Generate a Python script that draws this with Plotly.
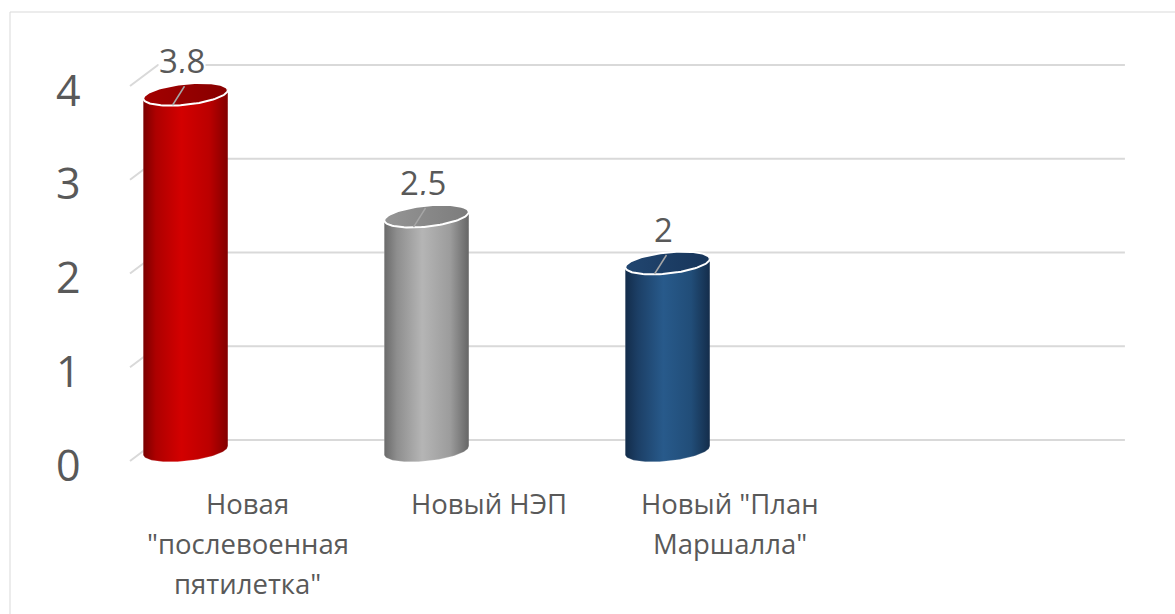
import numpy as np
import plotly.graph_objects as go

# ---------------- data ----------------
categories = ['Новая "послевоенная пятилетка"', 'Новый НЭП', 'Новый "План Маршалла"']
category_lines = [['Новая', '"послевоенная', 'пятилетка"'],
                  ['Новый НЭП'],
                  ['Новый "План', 'Маршалла"']]
values = [3.8, 2.5, 2.0]
y_ticks = [0, 1, 2, 3, 4]
value_labels = [f"{v:g}".replace('.', ',') for v in values]

# ---------------- styles ----------------
body_scales = [
    [[0, '#7a0000'], [0.15, '#ad0000'], [0.45, '#d30000'], [0.78, '#bb0000'], [1, '#830000']],
    [[0, '#6a6a6a'], [0.15, '#8e8e8e'], [0.45, '#b5b5b5'], [0.78, '#9c9c9c'], [1, '#666666']],
    [[0, '#132c4a'], [0.15, '#1c3f66'], [0.45, '#285a8b'], [0.78, '#214d78'], [1, '#142d4b']],
]
top_scales = [
    [[0, '#a30000'], [1, '#880000']],
    [[0, '#959595'], [1, '#7c7c7c']],
    [[0, '#214670'], [1, '#17355a']],
]
GRID = '#d9d9d9'
TEXT = '#595959'
FONT = 'Open Sans'

W, H = 1175, 614
PX_X = 241.0     # pixels per category step
PX_Y = 93.75     # pixels per value unit
X0_PX = 185.5    # pixel x of first category centre
Y0_PX = 450.5    # pixel y of value 0 (mid-depth plane)
x_range = [-X0_PX / PX_X, (W - X0_PX) / PX_X]
y_range = [(Y0_PX - H) / PX_Y, Y0_PX / PX_Y]

DEPTH_DX, DEPTH_DY = 14.0, 10.5          # half-depth offset in px
WALL_FRONT_X, WALL_BACK_X = -55.5, -27.5  # px relative to first category centre
WALL_RIGHT = 3.898                         # category units

ux = lambda px: px / PX_X
uy = lambda px: px / PX_Y

A, B, TH = 42.5, 10.5, np.deg2rad(6)


def ellipse(t):
    dx = A * np.cos(t) * np.cos(TH) - B * np.sin(t) * np.sin(TH)
    dy = A * np.cos(t) * np.sin(TH) + B * np.sin(t) * np.cos(TH)
    return dx, dy


t_r = np.arctan(-(B / A) * np.tan(TH))

fig = go.Figure()

# gridlines (side wall diagonal + back wall)
for v in y_ticks:
    fig.add_trace(go.Scatter(
        x=[ux(WALL_FRONT_X), ux(WALL_BACK_X), WALL_RIGHT],
        y=[v - uy(DEPTH_DY), v + uy(DEPTH_DY), v + uy(DEPTH_DY)],
        mode='lines', line=dict(color=GRID, width=2),
        hoverinfo='skip', showlegend=False))

# cylinders
for i, v in enumerate(values):
    # body
    tb = np.linspace(t_r, t_r - np.pi, 60)
    bx, by = ellipse(tb)
    tt = np.linspace(t_r - np.pi, t_r, 60)
    tx, ty = ellipse(tt)
    xs = np.concatenate([i + ux(bx), i + ux(tx)])
    ys = np.concatenate([0 + uy(by), v + uy(ty)])
    fig.add_trace(go.Scatter(
        x=xs, y=ys, mode='lines', fill='toself',
        fillgradient=dict(type='horizontal', colorscale=body_scales[i]),
        line=dict(width=0.6, color='rgba(255,255,255,0.35)'),
        hoverinfo='skip', showlegend=False))
    # top face
    tf = np.linspace(0, 2 * np.pi, 100)
    fx, fy = ellipse(tf)
    fig.add_trace(go.Scatter(
        x=i + ux(fx), y=v + uy(fy), mode='lines', fill='toself',
        fillgradient=dict(type='horizontal', colorscale=top_scales[i]),
        line=dict(width=2, color='white'),
        hoverinfo='skip', showlegend=False))
    # leader line
    fig.add_trace(go.Scatter(
        x=[i + ux(-1), i + ux(-13)], y=[v + uy(8), v + uy(-11)],
        mode='lines', line=dict(color='#a6a6a6', width=1.5),
        hoverinfo='skip', showlegend=False))

annotations = []
# data labels
for i, (v, lab) in enumerate(zip(values, value_labels)):
    annotations.append(dict(
        x=i + ux(-4), y=v, yshift=34, text=lab, showarrow=False,
        font=dict(family=FONT, size=33, color=TEXT),
        bgcolor='white', borderpad=0, height=26,
        xanchor='center', yanchor='middle'))
# value axis labels
for v in y_ticks:
    annotations.append(dict(
        x=ux(68 - X0_PX), y=v, yshift=-13.5, text=str(v), showarrow=False,
        font=dict(family=FONT, size=43, color=TEXT),
        xanchor='center', yanchor='middle'))
# category labels
for i, lines in enumerate(category_lines):
    for k, line in enumerate(lines):
        annotations.append(dict(
            x=i + ux(62), y=0, yshift=-(52.5 + 40 * k), text=line, showarrow=False,
            font=dict(family=FONT, size=27.5, color=TEXT),
            xanchor='center', yanchor='middle'))

fig.update_layout(
    width=W, height=H, autosize=False,
    margin=dict(l=0, r=0, t=0, b=0),
    paper_bgcolor='white', plot_bgcolor='white',
    xaxis=dict(range=x_range, visible=False, fixedrange=True),
    yaxis=dict(range=y_range, visible=False, fixedrange=True),
    annotations=annotations,
    shapes=[dict(type='rect', xref='paper', yref='paper',
                 x0=10 / W, x1=1.02, y0=-0.02, y1=1 - 12 / H,
                 line=dict(color='#d9d9d9', width=1), layer='below')],
    showlegend=False,
)

fig.write_html("out.html", config={'displayModeBar': False},
               post_script="document.body.style.margin='0';document.body.style.overflow='hidden';")
